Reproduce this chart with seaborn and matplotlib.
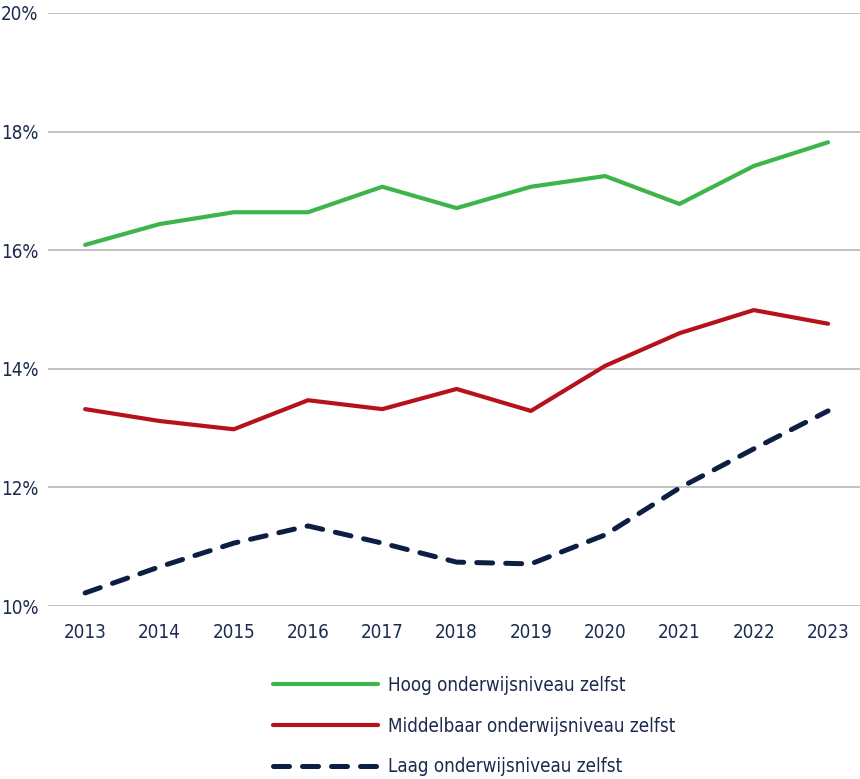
import matplotlib
matplotlib.use("Agg")
import matplotlib.pyplot as plt
from matplotlib import font_manager as fm
import seaborn as sns
import pandas as pd

years = [2013, 2014, 2015, 2016, 2017, 2018, 2019, 2020, 2021, 2022, 2023]
hoog = [16.09, 16.44, 16.64, 16.64, 17.07, 16.71, 17.07, 17.25, 16.78, 17.42, 17.82]
middel = [13.32, 13.12, 12.98, 13.47, 13.32, 13.66, 13.29, 14.05, 14.60, 14.99, 14.76]
laag = [10.22, 10.66, 11.06, 11.35, 11.06, 10.74, 10.71, 11.20, 11.99, 12.65, 13.29]
labels = ["Hoog onderwijsniveau zelfst", "Middelbaar onderwijsniveau zelfst", "Laag onderwijsniveau zelfst"]
yticks = [10, 12, 14, 16, 18, 20]

sns.set_theme(style="white")

# pick a condensed face if one is installed
cond = None
for f in fm.fontManager.ttflist:
    n = (f.name + " " + str(f.fname)).lower()
    if ("narrow" in n or "condensed" in n) and f.weight in (400, "normal", "regular") and f.style == "normal":
        cond = f
        break

if cond is not None:
    tick_font = fm.FontProperties(fname=cond.fname, size=13.5)
    leg_font = fm.FontProperties(fname=cond.fname, size=13.5)
else:
    tick_font = fm.FontProperties(family="Liberation Sans", size=12)
    leg_font = fm.FontProperties(family="Liberation Sans", size=12.5)

txt = "#1b2a4e"
fig = plt.figure(figsize=(8.6, 7.79), dpi=100)
ax = fig.add_axes([48/860, 1-606/779, 1-48/860, (606-13)/779])

series = [(hoog, labels[0], "#3db54a", "-"), (middel, labels[1], "#b5121b", "-"), (laag, labels[2], "#0d1e45", "--")]
for vals, lab, col, ls in series:
    df = pd.DataFrame({"year": years, "val": vals})
    kw = dict(linewidth=3.0)
    if ls == "--":
        kw = dict(linewidth=3.6, dashes=(3.2, 2.6))
    sns.lineplot(data=df, x="year", y="val", ax=ax, color=col, label=lab,
                 solid_capstyle="round", dash_capstyle="round", **kw)

ax.set_xlim(2012.5, 2023.43)
ax.set_ylim(10, 20)
ax.set_yticks(yticks)
ax.set_yticklabels([f"{t}%" for t in yticks], fontproperties=tick_font, color=txt)
ax.set_xticks(years)
ax.set_xticklabels([str(y) for y in years], fontproperties=tick_font, color=txt)
ax.grid(axis="y", color="#bdbdbd", linewidth=1.3)
ax.set_axisbelow(True)
for s in ax.spines.values():
    s.set_visible(False)
ax.set_xlabel("")
ax.set_ylabel("")
ax.tick_params(axis="both", length=0)
ax.tick_params(axis="x", pad=12)
ax.tick_params(axis="y", pad=7)

ax.legend_.remove()
handles, labs = ax.get_legend_handles_labels()
leg = fig.legend(handles, labs, loc="upper left", bbox_to_anchor=(256/860, 1-659/779),
                 frameon=False, prop=leg_font, handlelength=5.6, labelspacing=1.16,
                 handletextpad=0.53, labelcolor=txt)

fig.savefig("out.png", dpi=100)
